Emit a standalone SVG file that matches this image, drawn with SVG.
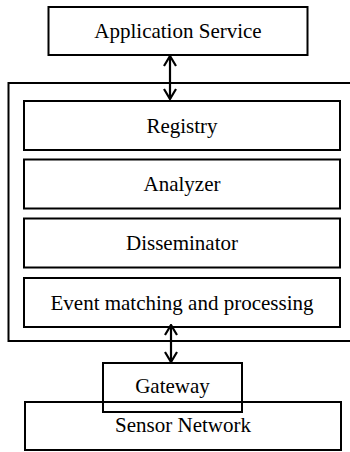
<svg xmlns="http://www.w3.org/2000/svg" width="350" height="452" viewBox="0 0 350 452">
  <style>
    .box { fill: none; stroke: #000; stroke-width: 2; }
    .label { font-family: "Liberation Serif", "Times New Roman", serif; font-size: 21px; fill: #000; text-anchor: middle; }
    .link { fill: none; stroke: #000; stroke-width: 2.2; }
  </style>
  <defs>
    <marker id="head" viewBox="0 0 12 14" refX="11" refY="7" markerWidth="12" markerHeight="14" markerUnits="userSpaceOnUse" orient="auto-start-reverse">
      <path d="M1,1 L11,7 L1,13" fill="none" stroke="#000" stroke-width="2.2"/>
    </marker>
  </defs>
  <rect width="350" height="452" fill="#fff"/>

  <g id="application-service">
    <rect class="box" x="48.5" y="7" width="259" height="48"/>
    <text class="label" x="178" y="38">Application Service</text>
  </g>

  <g id="middleware">
    <rect class="box" x="8.5" y="83" width="360" height="258"/>
  </g>

  <g id="registry">
    <rect class="box" x="24" y="101" width="316" height="49"/>
    <text class="label" x="182" y="132.5">Registry</text>
  </g>

  <g id="analyzer">
    <rect class="box" x="24" y="159.5" width="316" height="49"/>
    <text class="label" x="182" y="191">Analyzer</text>
  </g>

  <g id="disseminator">
    <rect class="box" x="24" y="218.5" width="316" height="49"/>
    <text class="label" x="182" y="250">Disseminator</text>
  </g>

  <g id="event-matching">
    <rect class="box" x="24" y="278" width="316" height="49"/>
    <text class="label" x="182" y="309.5">Event matching and processing</text>
  </g>

  <g id="sensor-network">
    <rect class="box" x="25" y="402" width="316" height="48"/>
    <text class="label" x="183" y="432">Sensor Network</text>
  </g>

  <g id="gateway">
    <rect class="box" x="103" y="363" width="139" height="49"/>
    <text class="label" x="172.5" y="393">Gateway</text>
  </g>

  <g id="connectors">
    <line class="link" x1="170" y1="56" x2="170" y2="99" marker-start="url(#head)" marker-end="url(#head)"/>
    <line class="link" x1="171" y1="325" x2="171" y2="362" marker-start="url(#head)" marker-end="url(#head)"/>
  </g>
</svg>
